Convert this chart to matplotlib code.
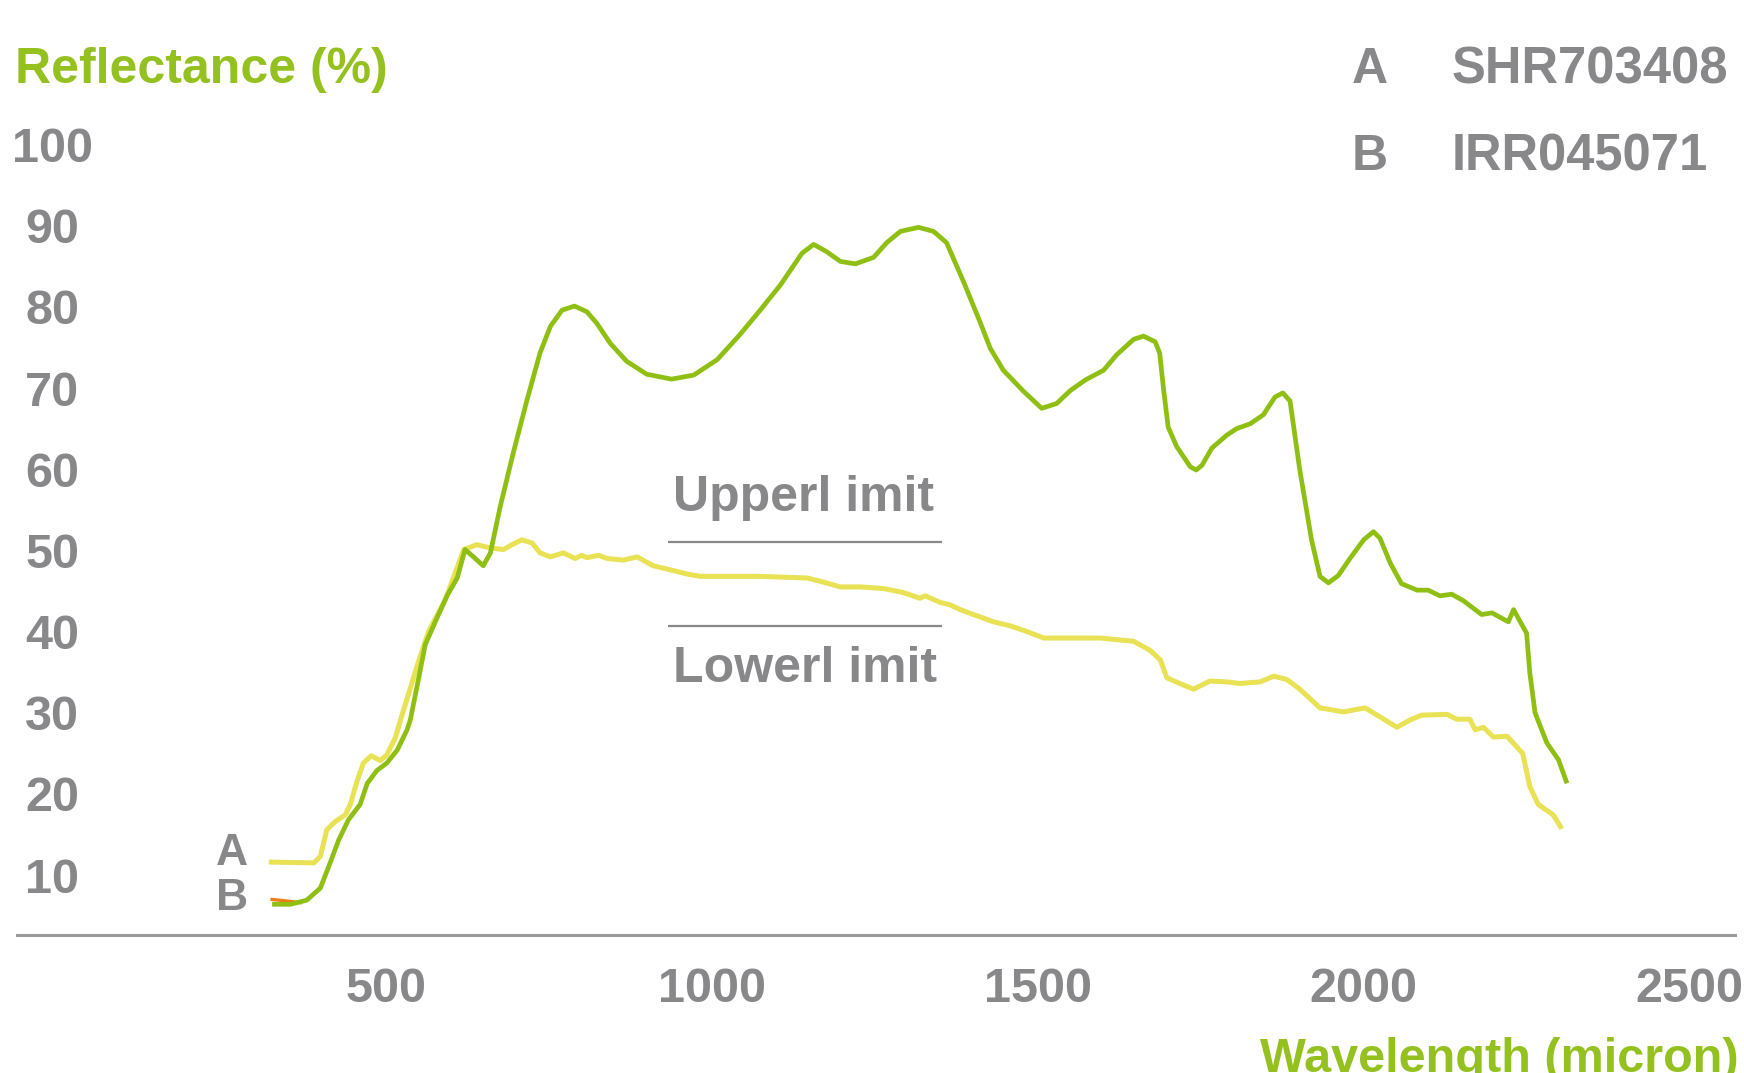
import matplotlib
matplotlib.use("Agg")
import matplotlib.pyplot as plt

plt.rcParams['font.family'] = ['Liberation Sans', 'DejaVu Sans']

# ---- data ----
green_nm = [325, 353, 378, 399, 414, 427, 442, 460, 471, 486, 501, 517, 532, 537, 548, 560, 577,
            594, 609, 621, 634, 649, 660, 675, 695, 716, 736, 752, 770, 789, 808, 823, 844, 869,
            900, 938, 972, 1008, 1043, 1074, 1105, 1138, 1156, 1176, 1197, 1220, 1248, 1268,
            1289, 1317, 1340, 1360, 1386, 1412, 1427, 1447, 1478, 1506, 1529, 1550, 1573, 1601,
            1621, 1647, 1662, 1680, 1687, 1693, 1700, 1713, 1734, 1743, 1752, 1767, 1790, 1805,
            1826, 1846, 1864, 1876, 1887, 1902, 1920, 1933, 1946, 1961, 1979, 2000, 2015, 2025,
            2041, 2058, 2082, 2099, 2117, 2135, 2153, 2181, 2197, 2222, 2230, 2250, 2255, 2263,
            2281, 2299, 2312]
green_val = [6.4, 6.4, 6.9, 8.4, 11.5, 14.3, 16.8, 18.7, 21.3, 22.9, 23.8, 25.4, 27.9, 29.1, 33.5,
             38.4, 41.5, 44.5, 46.6, 50.1, 49.2, 48.1, 49.7, 55.4, 62.0, 68.5, 74.3, 77.6, 79.6,
             80.1, 79.4, 78.0, 75.5, 73.3, 71.7, 71.1, 71.6, 73.5, 76.6, 79.6, 82.7, 86.6, 87.7,
             86.8, 85.6, 85.3, 86.1, 87.9, 89.3, 89.8, 89.3, 87.9, 83.1, 78.0, 74.9, 72.2, 69.6,
             67.5, 68.1, 69.7, 71.0, 72.2, 74.1, 76.0, 76.4, 75.7, 74.3, 69.8, 65.2, 62.8, 60.3,
             59.9, 60.5, 62.6, 64.2, 65.0, 65.6, 66.7, 68.9, 69.4, 68.4, 59.9, 51.3, 46.8, 46.0,
             46.9, 49.0, 51.3, 52.3, 51.5, 48.4, 45.9, 45.1, 45.1, 44.4, 44.6, 43.8, 42.1, 42.3,
             41.2, 42.7, 39.8, 34.9, 30.0, 26.3, 24.2, 21.3]

yellow_nm = [320, 389, 399, 409, 422, 437, 445, 455, 465, 477, 491, 501, 514, 522, 535, 548, 565,
             590, 603, 619, 639, 660, 680, 693, 708, 724, 736, 752, 772, 790, 800, 808, 826, 839,
             864, 885, 910, 941, 961, 982, 1074, 1146, 1166, 1197, 1227, 1263, 1294, 1319, 1327,
             1350, 1365, 1381, 1401, 1432, 1458, 1483, 1509, 1596, 1647, 1672, 1688, 1698, 1718,
             1739, 1764, 1790, 1810, 1841, 1862, 1882, 1902, 1933, 1969, 2002, 2025, 2051, 2071,
             2089, 2128, 2143, 2163, 2171, 2184, 2199, 2220, 2244, 2255, 2268, 2291, 2304]
yellow_val = [11.6, 11.5, 12.3, 15.6, 16.6, 17.4, 18.7, 21.5, 23.8, 24.7, 24.1, 24.8, 26.9, 29.1,
              32.5, 35.9, 40.0, 43.8, 46.6, 50.1, 50.7, 50.3, 50.1, 50.7, 51.3, 50.9, 49.7, 49.2,
              49.7, 49.0, 49.4, 49.1, 49.4, 49.0, 48.8, 49.2, 48.1, 47.5, 47.1, 46.8, 46.8, 46.6,
              46.2, 45.5, 45.5, 45.3, 44.8, 44.1, 44.4, 43.6, 43.3, 42.7, 42.1, 41.2, 40.7, 40.0,
              39.2, 39.2, 38.8, 37.7, 36.5, 34.3, 33.6, 32.9, 33.9, 33.8, 33.6, 33.8, 34.5, 34.1,
              32.9, 30.6, 30.1, 30.6, 29.5, 28.2, 29.1, 29.7, 29.8, 29.2, 29.2, 27.9, 28.2, 27.0,
              27.1, 25.0, 20.9, 18.7, 17.4, 15.7]

orange_nm = [325, 353, 368]
orange_val = [7.0, 6.75, 6.6]

upper_limit = 51.0
lower_limit = 40.7
limit_range = [932, 1353]

x_ticks = [500, 1000, 1500, 2000, 2500]
y_ticks = [10, 20, 30, 40, 50, 60, 70, 80, 90, 100]

legend_keys = ["A", "B"]
legend_names = ["SHR703408", "IRR045071"]

GREEN = "#8fbf12"
YELLOW = "#e8e254"
ORANGE = "#ee7d1a"
GRAY = "#88888a"
TITLE_GREEN = "#94c11f"

fig = plt.figure(figsize=(17.44, 10.73), dpi=100)
W, H = 1568.0, 965.0
ax = fig.add_axes([15 / W, 1 - 841 / H, 1545 / W, 711 / H])
ax.set_xlim(-67, 2570)
ax.set_ylim(2.6, 100)

ax.plot(yellow_nm, yellow_val, color=YELLOW, lw=3.6, solid_capstyle='butt',
        solid_joinstyle='round', zorder=3)
ax.plot(orange_nm, orange_val, color=ORANGE, lw=2.4, solid_joinstyle='round', zorder=3)
ax.plot(green_nm, green_val, color=GREEN, lw=3.4, solid_capstyle='butt',
        solid_joinstyle='round', zorder=4)

ax.hlines([upper_limit, lower_limit], limit_range[0], limit_range[1], color=GRAY, lw=1.6, zorder=2)
ax.text(1140, 56.4, "Upperl imit", color=GRAY, fontsize=36, fontweight='bold',
        ha='center', va='center')
ax.text(1142, 35.4, "Lowerl imit", color=GRAY, fontsize=36, fontweight='bold',
        ha='center', va='center')

ax.text(263, 12.7, "A", color=GRAY, fontsize=32, fontweight='bold', ha='center', va='center')
ax.text(263, 7.1, "B", color=GRAY, fontsize=32, fontweight='bold', ha='center', va='center')

for s in ['top', 'right', 'left']:
    ax.spines[s].set_visible(False)
ax.spines['bottom'].set_color("#9a9a9a")
ax.spines['bottom'].set_linewidth(2.2)

ax.set_xticks(x_ticks)
ax.set_xticklabels([str(v) for v in x_ticks])
ax.set_yticks(y_ticks)
ax.set_yticklabels([str(v) for v in y_ticks])
ax.tick_params(axis='x', length=0, pad=23, labelsize=35, labelcolor=GRAY)
ax.tick_params(axis='y', length=0, pad=-25.5, labelsize=35, labelcolor=GRAY)
for lab in ax.get_xticklabels() + ax.get_yticklabels():
    lab.set_fontweight('bold')
for lab in ax.get_yticklabels():
    lab.set_horizontalalignment('center')

fig.text(15 / 1744, 1 - 83 / 1073, "Reflectance (%)", color=TITLE_GREEN, fontsize=36,
         fontweight='bold', ha='left', va='baseline')
fig.text(1260 / 1744, 0.001, "Wavelength (micron)", color=TITLE_GREEN, fontsize=35,
         fontweight='bold', ha='left', va='baseline')

for i, (k, n) in enumerate(zip(legend_keys, legend_names)):
    yb = 1 - (83 + 87 * i) / 1073
    fig.text(1352 / 1744, yb, k, color=GRAY, fontsize=36, fontweight='bold', ha='left', va='baseline')
    fig.text(1452 / 1744, yb, n, color=GRAY, fontsize=36.5, fontweight='bold', ha='left', va='baseline')

fig.savefig("out.png", dpi=100)
